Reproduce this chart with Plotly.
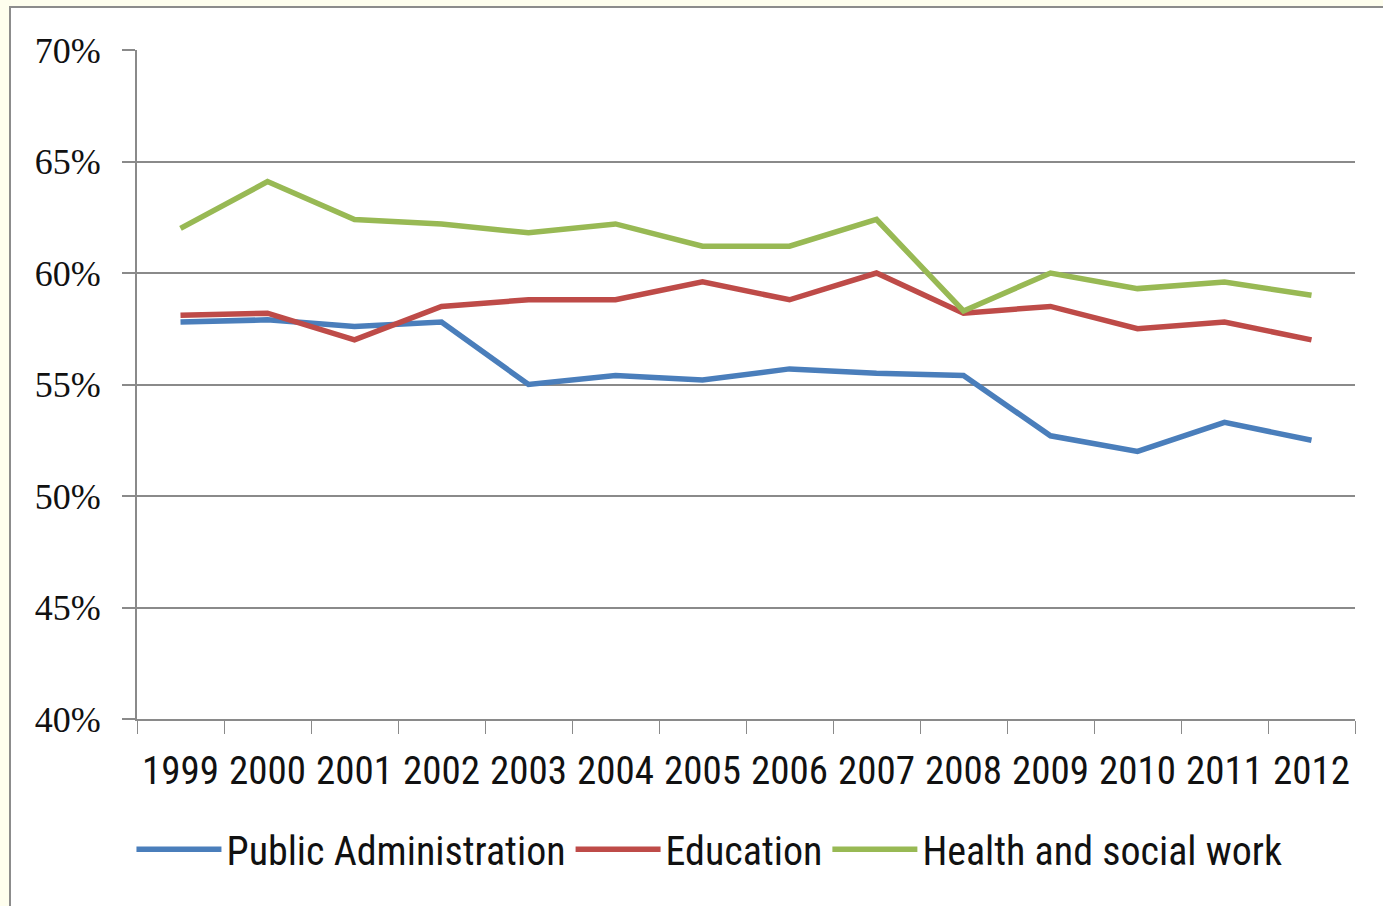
import plotly.graph_objects as go

years = ["1999", "2000", "2001", "2002", "2003", "2004", "2005",
         "2006", "2007", "2008", "2009", "2010", "2011", "2012"]

public_admin = [0.578, 0.579, 0.576, 0.578, 0.550, 0.554, 0.552,
                0.557, 0.555, 0.554, 0.527, 0.520, 0.533, 0.525]
education = [0.581, 0.582, 0.570, 0.585, 0.588, 0.588, 0.596,
             0.588, 0.600, 0.582, 0.585, 0.575, 0.578, 0.570]
health_social = [0.620, 0.641, 0.624, 0.622, 0.618, 0.622, 0.612,
                 0.612, 0.624, 0.583, 0.600, 0.593, 0.596, 0.590]

series = [
    ("Public Administration", public_admin, "#4A7EBB"),
    ("Education", education, "#BE4B48"),
    ("Health and social work", health_social, "#98B954"),
]

W, H = 1383, 906
fig = go.Figure()
for name, vals, color in series:
    fig.add_trace(go.Scatter(
        x=years, y=vals, name=name, mode="lines",
        line=dict(color=color, width=5.5),
    ))

label_font = "Liberation Sans Narrow, Arial Narrow, Roboto Condensed, Open Sans, sans-serif"

fig.update_layout(
    width=W, height=H,
    margin=dict(l=137, r=28, t=50, b=187),
    paper_bgcolor="#FEFEEE",
    plot_bgcolor="white",
    showlegend=True,
    legend=dict(
        orientation="h", x=0.47, xanchor="center", y=-0.146, yanchor="top",
        font=dict(family=label_font, size=40, color="#111"),
        bgcolor="rgba(0,0,0,0)", itemwidth=85, tracegroupgap=0,
    ),
    xaxis=dict(
        type="category", range=[-0.5, 13.5],
        showgrid=False, showline=True, linecolor="#8a8a8a", linewidth=2,
        ticks="outside", tickson="boundaries", ticklen=13, tickcolor="#8a8a8a",
        tickwidth=1, ticklabelstandoff=16,
        tickfont=dict(family=label_font, size=39, color="#111"),
    ),
    yaxis=dict(
        range=[0.40, 0.70], tickvals=[0.40, 0.45, 0.50, 0.55, 0.60, 0.65, 0.70],
        tickformat=".0%", showgrid=True, gridcolor="#8a8a8a", gridwidth=1.5,
        showline=True, linecolor="#8a8a8a", linewidth=2,
        ticks="outside", ticklen=13, tickcolor="#8a8a8a", tickwidth=1.5,
        zeroline=False, ticklabelstandoff=14,
        tickfont=dict(family="Liberation Serif, Times New Roman, serif", size=36, color="#111"),
    ),
    shapes=[dict(
        type="rect", xref="paper", yref="paper", layer="below",
        x0=(10 - 137) / (W - 137 - 28), x1=(1395 - 137) / (W - 137 - 28),
        y0=(187 - 920) / (H - 50 - 187), y1=1 + (50 - 7) / (H - 50 - 187),
        fillcolor="white", line=dict(color="#8c8c8c", width=2),
    )],
)

fig.write_html("out.html")
